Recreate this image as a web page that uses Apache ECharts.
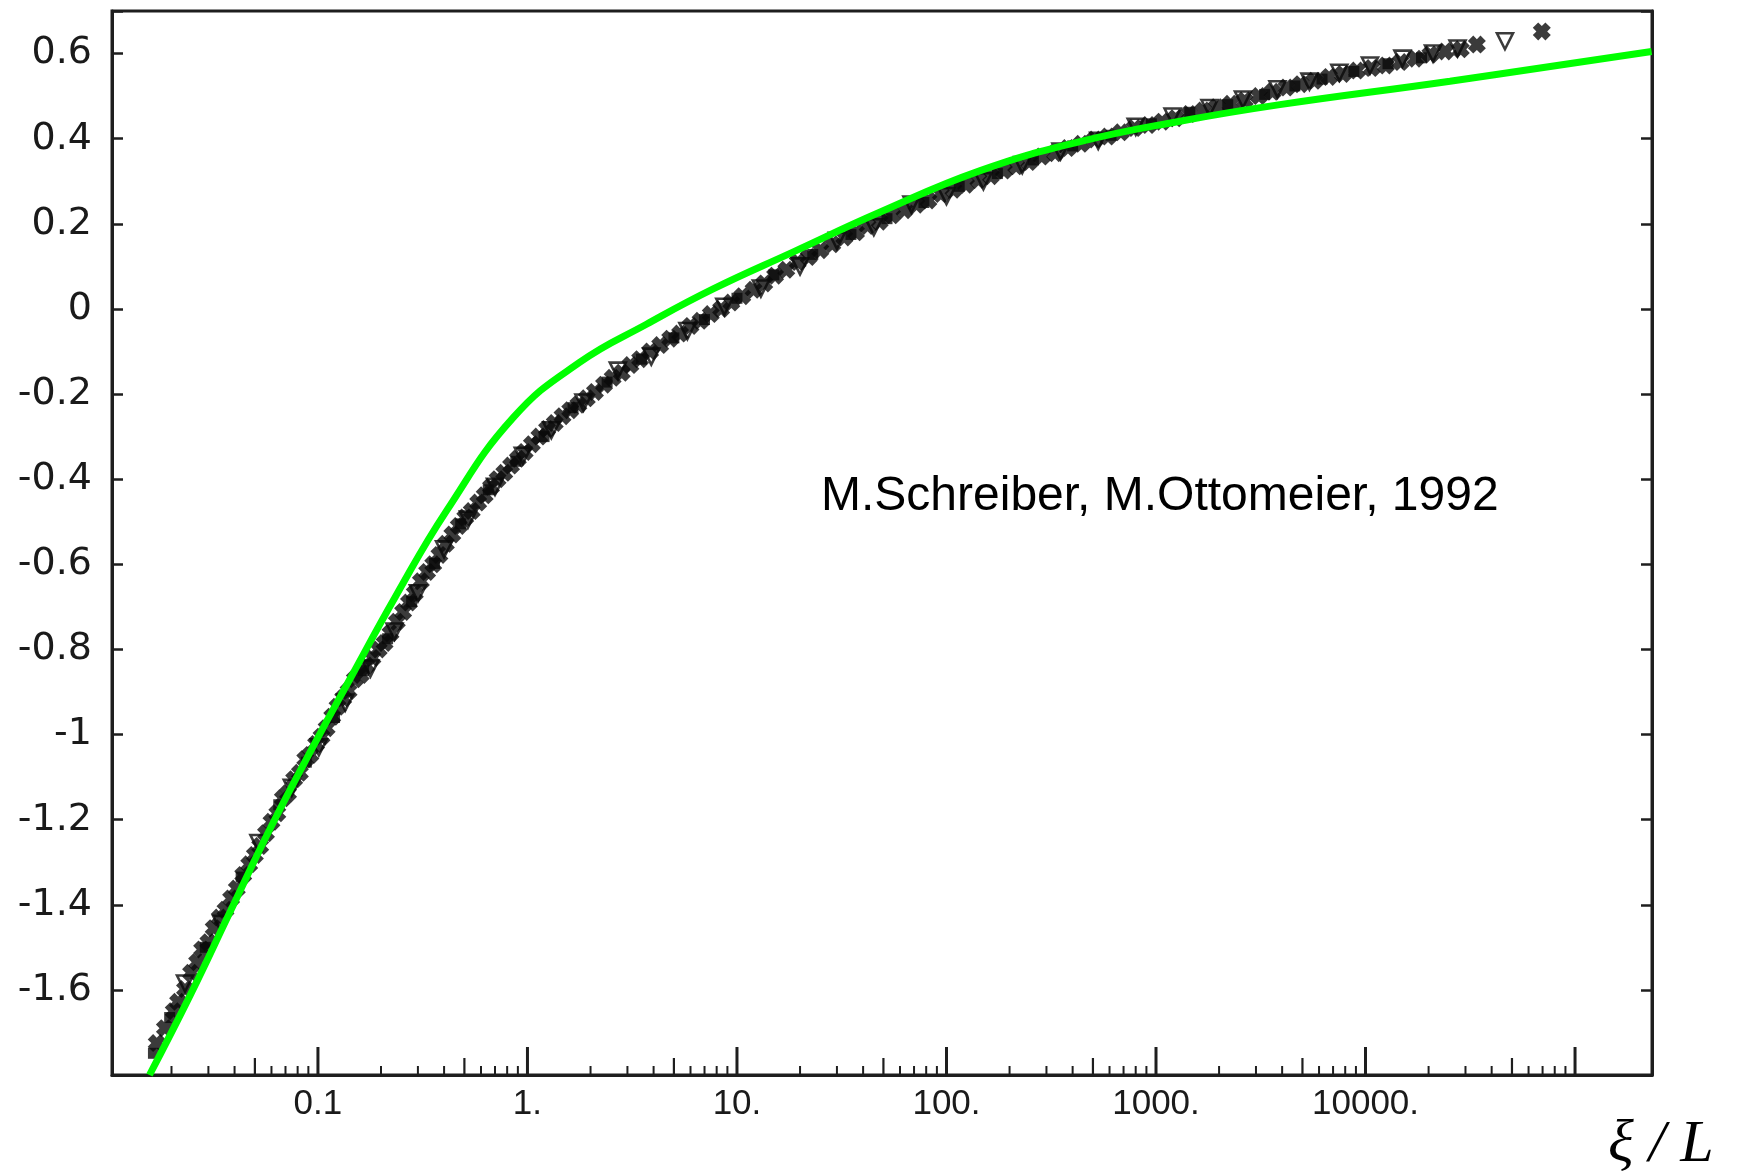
<!DOCTYPE html>
<html>
<head>
<meta charset="utf-8">
<title>Scaling curve, xi / L</title>
<script src="https://cdn.jsdelivr.net/npm/echarts@6/dist/echarts.min.js"></script>
<style>
  html, body { margin: 0; padding: 0; background: #ffffff; }
  #chart { width: 1739px; height: 1176px; }
</style>
</head>
<body>
<div id="chart"></div>
<script>
// scaling function (green): [xi/L, value]
var greenLine = [
  [0.0157, -1.80], [0.0247, -1.61], [0.0378, -1.42], [0.060, -1.215],
  [0.098, -1.015], [0.142, -0.87], [0.235, -0.675], [0.41, -0.475],
  [0.857, -0.255], [1.78, -0.125], [3.7, -0.036], [7.7, 0.047],
  [18.6, 0.134], [48, 0.227], [145, 0.325], [434, 0.393],
  [1300, 0.441], [3900, 0.48], [25300, 0.535], [232000, 0.605]
];

// numerical data, crosses
var crossPoints = [
  [0.0170, -1.725], [0.0186, -1.690], [0.0205, -1.650], [0.0215, -1.628],
  [0.0232, -1.598], [0.0248, -1.560], [0.0265, -1.535], [0.0280, -1.505],
  [0.0300, -1.488], [0.0318, -1.455], [0.0340, -1.430], [0.0362, -1.412],
  [0.0385, -1.385], [0.0410, -1.362], [0.0440, -1.330], [0.0470, -1.305],
  [0.0500, -1.283], [0.0530, -1.262], [0.0565, -1.232], [0.0600, -1.205],
  [0.0640, -1.185], [0.0680, -1.150], [0.0720, -1.138], [0.0770, -1.105],
  [0.0820, -1.090], [0.0870, -1.058], [0.0920, -1.048], [0.0980, -1.022],
  [0.1040, -1.005], [0.1100, -0.985], [0.1170, -0.958], [0.1240, -0.935],
  [0.1320, -0.915], [0.1400, -0.898], [0.1500, -0.870], [0.1600, -0.860],
  [0.1700, -0.838], [0.1820, -0.820], [0.1950, -0.800], [0.2080, -0.785],
  [0.2220, -0.762], [0.2380, -0.735], [0.2550, -0.712], [0.2720, -0.690],
  [0.2900, -0.668], [0.3100, -0.640], [0.3320, -0.618], [0.3550, -0.600],
  [0.3800, -0.578], [0.4080, -0.552], [0.4380, -0.530], [0.4700, -0.510],
  [0.5050, -0.490], [0.5420, -0.475], [0.5820, -0.455], [0.6250, -0.438],
  [0.6700, -0.418], [0.7200, -0.400], [0.7750, -0.385], [0.8350, -0.368],
  [0.9000, -0.352], [0.9700, -0.336], [1.050, -0.318], [1.140, -0.300],
  [1.240, -0.282], [1.350, -0.268], [1.470, -0.252], [1.600, -0.238],
  [1.750, -0.225], [1.920, -0.210], [2.100, -0.195], [2.320, -0.178],
  [2.550, -0.162], [2.820, -0.150], [3.100, -0.132], [3.450, -0.118],
  [3.850, -0.100], [4.300, -0.085], [4.800, -0.070], [5.350, -0.058],
  [6.000, -0.040], [6.700, -0.028], [7.500, -0.012], [8.400, 0.000],
  [9.400, 0.015], [10.60, 0.030], [12.00, 0.045], [13.50, 0.060],
  [15.20, 0.078], [17.20, 0.092], [19.50, 0.110], [22.00, 0.122],
  [25.00, 0.138], [28.50, 0.152], [32.50, 0.168], [37.00, 0.180],
  [42.00, 0.195], [48.00, 0.205], [55.00, 0.220], [63.00, 0.232],
  [72.00, 0.245], [82.00, 0.255], [94.00, 0.270], [108.0, 0.280],
  [124.0, 0.292], [142.0, 0.303], [163.0, 0.312], [188.0, 0.325],
  [215.0, 0.335], [248.0, 0.345], [285.0, 0.358], [330.0, 0.366],
  [380.0, 0.378], [440.0, 0.388], [510.0, 0.398], [590.0, 0.405],
  [680.0, 0.415], [790.0, 0.425], [920.0, 0.432], [1070, 0.440],
  [1240, 0.448], [1440, 0.458], [1680, 0.466], [1950, 0.474],
  [2270, 0.482], [2650, 0.490], [3100, 0.500], [3600, 0.510],
  [4200, 0.520], [4900, 0.528], [5700, 0.536], [6700, 0.545],
  [7800, 0.552], [9100, 0.560], [10700, 0.566], [12500, 0.572],
  [14700, 0.580], [17300, 0.588], [20400, 0.598], [24000, 0.605],
  [28500, 0.610], [34000, 0.621], [69400, 0.652]
];

// numerical data, open down-triangles
var trianglePoints = [
  [0.0232, -1.585], [0.0345, -1.445], [0.052, -1.255], [0.075, -1.125],
  [0.101, -1.030], [0.135, -0.925], [0.178, -0.845], [0.232, -0.758],
  [0.30, -0.668], [0.40, -0.565], [0.52, -0.495], [0.70, -0.418],
  [0.95, -0.345], [1.30, -0.285], [1.85, -0.220], [2.70, -0.145],
  [3.90, -0.112], [5.80, -0.052], [8.70, 0.005], [13.0, 0.048],
  [20.0, 0.100], [30.0, 0.160], [45.0, 0.192], [68.0, 0.245],
  [100, 0.265], [150, 0.300], [230, 0.338], [350, 0.370],
  [530, 0.395], [800, 0.428], [1200, 0.452], [1800, 0.472],
  [2600, 0.492], [3800, 0.516], [5400, 0.534], [7500, 0.555],
  [10500, 0.572], [15000, 0.588], [21000, 0.600], [27500, 0.612],
  [46300, 0.629]
];

// numerical data, filled squares
var squarePoints = [
  [0.0164, -1.749], [0.0196, -1.665], [0.0290, -1.500], [0.043, -1.335],
  [0.065, -1.165], [0.088, -1.065], [0.120, -0.960], [0.165, -0.850],
  [0.215, -0.775], [0.28, -0.688], [0.36, -0.598], [0.48, -0.505],
  [0.65, -0.425], [0.88, -0.358], [1.20, -0.300], [1.65, -0.232],
  [2.40, -0.172], [3.50, -0.118], [5.00, -0.068], [7.00, -0.025],
  [10.0, 0.025], [15.0, 0.080], [23.0, 0.128], [35.0, 0.175],
  [52.0, 0.212], [78.0, 0.250], [115, 0.288], [175, 0.318],
  [260, 0.350], [400, 0.383], [610, 0.408], [950, 0.435],
  [1450, 0.462], [2200, 0.480], [3300, 0.504], [4600, 0.524],
  [6200, 0.540], [8800, 0.558], [12800, 0.576], [18500, 0.590]
];

// axes
var xMin = 0.0104, xMax = 233000;
var yMin = -1.8, yMax = 0.7;
var xTickValues = [0.1, 1, 10, 100, 1000, 10000];
var xTickLabels = ['0.1', '1.', '10.', '100.', '1000.', '10000.'];
var xDecades = [0.01, 0.1, 1, 10, 100, 1000, 10000];
var xMajorTicks = [0.1, 1, 10, 100, 1000, 10000, 100000];
var xMinorMultipliers = [2, 3, 4, 5, 6, 7, 8, 9];
var yTickLabels = ['-1.6', '-1.4', '-1.2', '-1', '-0.8', '-0.6', '-0.4',
                   '-0.2', '0', '0.2', '0.4', '0.6'];

var axisColor = '#1e1e1e';
var markColor = '#0a0a0a';
var crossPath = 'path://M0,3L3,0L5,2L7,0L10,3L8,5L10,7L7,10L5,8L3,10L0,7L2,5Z';

// tick list for the log axis: kind 0 = decade, 1 = five, 2 = other minor
var xTicks = [];
xMajorTicks.forEach(function (v) { xTicks.push([v, 0]); });
xDecades.forEach(function (d) {
  xMinorMultipliers.forEach(function (m) {
    var v = d * m;
    if (v > xMin && v < xMax) xTicks.push([v, m === 5 ? 1 : 2]);
  });
});
var xTickLength = [28, 17, 9];
var xTickWidth = [3, 2.2, 2];

function renderXTick(params, api) {
  var kind = api.value(1);
  var p = api.coord([api.value(0), yMin]);
  return {
    type: 'line',
    shape: { x1: p[0], y1: p[1], x2: p[0], y2: p[1] - xTickLength[kind] },
    style: { stroke: axisColor, lineWidth: xTickWidth[kind] }
  };
}

function xLabel(v) {
  for (var i = 0; i < xTickValues.length; i++) {
    if (Math.abs(Math.log10(v) - Math.log10(xTickValues[i])) < 1e-6) return xTickLabels[i];
  }
  return '';
}

function yLabel(v) {
  var s = String(Math.round(v * 10) / 10);
  return yTickLabels.indexOf(s) >= 0 ? s : '';
}

var chart = echarts.init(document.getElementById('chart'), null, { renderer: 'canvas' });

var option = {
  backgroundColor: '#ffffff',
  animation: false,
  grid: {
    left: 112, right: 87, top: 11, bottom: 101,
    show: true, borderColor: axisColor, borderWidth: 3, backgroundColor: 'transparent'
  },
  xAxis: {
    type: 'log',
    logBase: 10,
    min: xMin,
    max: xMax,
    splitNumber: 10,
    axisLine: { show: true, onZero: false, lineStyle: { color: axisColor, width: 3 } },
    axisTick: { show: false },
    minorTick: { show: false },
    splitLine: { show: false },
    axisLabel: {
      formatter: xLabel,
      margin: 12,
      color: '#1a1a1a',
      fontFamily: '"Liberation Sans", Arial, sans-serif',
      fontSize: 35
    }
  },
  yAxis: [
    {
      type: 'value',
      min: yMin,
      max: yMax,
      interval: 0.2,
      axisLine: { show: true, lineStyle: { color: axisColor, width: 3 } },
      axisTick: { show: true, inside: true, length: 11, lineStyle: { color: axisColor, width: 2.5 } },
      splitLine: { show: false },
      axisLabel: {
        formatter: yLabel,
        margin: 20,
        color: '#1a1a1a',
        fontFamily: '"DejaVu Sans", sans-serif',
        fontSize: 38
      }
    },
    {
      type: 'value',
      position: 'right',
      min: yMin,
      max: yMax,
      interval: 0.2,
      axisLine: { show: true, lineStyle: { color: axisColor, width: 3 } },
      axisTick: { show: true, inside: true, length: 11, lineStyle: { color: axisColor, width: 2.5 } },
      splitLine: { show: false },
      axisLabel: { show: false }
    }
  ],
  graphic: [
    {
      type: 'text',
      style: {
        x: 821, y: 497,
        text: 'M.Schreiber, M.Ottomeier, 1992',
        verticalAlign: 'middle',
        font: '48px "Liberation Sans", Arial, sans-serif',
        fill: '#000000'
      }
    },
    {
      type: 'text',
      style: {
        x: 1608, y: 1145,
        text: 'ξ / L',
        verticalAlign: 'middle',
        font: 'italic 60px "Liberation Serif", "Times New Roman", serif',
        fill: '#000000'
      }
    }
  ],
  series: [
    {
      type: 'custom',
      name: 'x ticks',
      silent: true,
      renderItem: renderXTick,
      data: xTicks,
      z: 5
    },
    {
      type: 'scatter',
      name: 'squares',
      data: squarePoints,
      symbol: 'rect',
      symbolSize: 11,
      itemStyle: { color: markColor },
      silent: true,
      z: 2
    },
    {
      type: 'scatter',
      name: 'triangles',
      data: trianglePoints,
      symbol: 'triangle',
      symbolRotate: 180,
      symbolSize: 16,
      itemStyle: { color: 'rgba(255,255,255,0)', borderColor: markColor, borderWidth: 2.6 },
      silent: true,
      z: 2
    },
    {
      type: 'scatter',
      name: 'crosses',
      data: crossPoints,
      symbol: crossPath,
      symbolSize: 18,
      itemStyle: { color: markColor },
      silent: true,
      z: 2
    },
    {
      type: 'line',
      name: 'scaling function',
      data: greenLine,
      smooth: 0.45,
      showSymbol: false,
      clip: false,
      lineStyle: { color: '#00ff00', width: 7 },
      silent: true,
      z: 10
    }
  ]
};

chart.setOption(option);
</script>
</body>
</html>
